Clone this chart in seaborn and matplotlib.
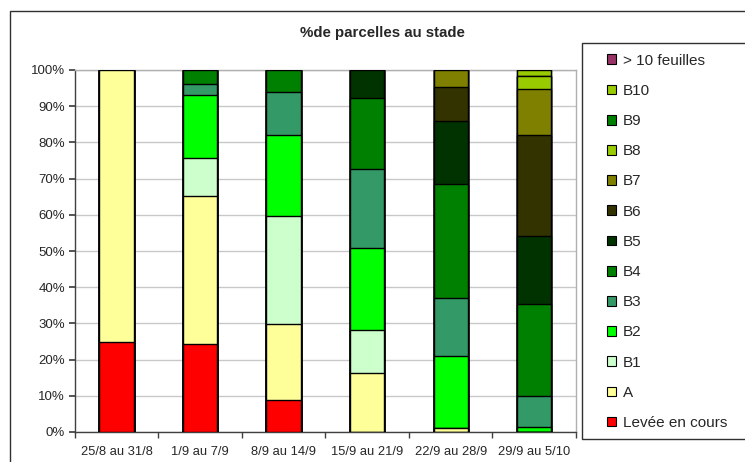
import matplotlib
matplotlib.use("Agg")
import matplotlib.pyplot as plt
from matplotlib.patches import Patch, Rectangle
import seaborn as sns
import pandas as pd
import numpy as np

periods = ["25/8 au 31/8", "1/9 au 7/9", "8/9 au 14/9", "15/9 au 21/9", "22/9 au 28/9", "29/9 au 5/10"]
stages = ["Levée en cours", "A", "B1", "B2", "B3", "B4", "B5", "B6", "B7", "B8", "B9", "B10", "> 10 feuilles"]
levee = [25.0, 24.3, 8.8, 0, 0, 0]
stade_a = [75.0, 41.0, 21.0, 16.4, 1.0, 0]
b1 = [0, 10.3, 29.8, 11.8, 0, 0]
b2 = [0, 17.5, 22.4, 22.7, 20.1, 1.3]
b3 = [0, 3.1, 11.8, 21.8, 16.0, 8.6]
b4 = [0, 3.8, 6.2, 19.6, 31.3, 25.4]
b5 = [0, 0, 0, 7.7, 17.5, 18.8]
b6 = [0, 0, 0, 0, 9.3, 27.9]
b7 = [0, 0, 0, 0, 4.8, 12.8]
b8 = [0, 0, 0, 0, 0, 3.6]
b9 = [0, 0, 0, 0, 0, 0]
b10 = [0, 0, 0, 0, 0, 1.6]
plus10 = [0, 0, 0, 0, 0, 0]
colors = ["#FF0000", "#FFFF99", "#CCFFCC", "#00FF00", "#339966", "#008000",
          "#003300", "#333300", "#808000", "#99CC00", "#008000", "#99CC00", "#993366"]

series = [levee, stade_a, b1, b2, b3, b4, b5, b6, b7, b8, b9, b10, plus10]
cum = np.cumsum(np.array(series, dtype=float), axis=0)

sns.set_theme(style="white")
plt.rcParams["font.family"] = ["Liberation Sans", "DejaVu Sans"]

fig = plt.figure(figsize=(7.45, 4.62), dpi=100)
ax = fig.add_axes([74.7 / 745, 1 - 432 / 462, (576 - 74.7) / 745, (432 - 70) / 462])

for i in range(len(stages) - 1, -1, -1):
    df = pd.DataFrame({"period": periods, "value": cum[i]})
    sns.barplot(data=df, x="period", y="value", color=colors[i], saturation=1,
                width=0.41, edgecolor="black", linewidth=1.0, ax=ax, zorder=3)

ax.set_ylim(0, 100)
ax.set_xlim(-0.5, len(periods) - 0.5)
ax.set_yticks(np.arange(0, 101, 10))
ax.set_yticklabels([f"{v}%" for v in range(0, 101, 10)], fontsize=9.5)
ax.set_xticks(range(len(periods)))
ax.set_xticklabels(periods, fontsize=9.3)
ax.tick_params(axis="x", length=0, pad=10)
ax.set_xticks(np.arange(-0.5, len(periods), 1), minor=True)
ax.tick_params(axis="x", which="minor", length=4, color="#404040", direction="out", bottom=True)
ax.tick_params(axis="y", length=4, color="#404040", direction="out", left=True, pad=3)
ax.set_xlabel("")
ax.set_ylabel("")
ax.yaxis.grid(True, color="#C8C8C8", linewidth=1.0, zorder=0)
ax.set_axisbelow(True)
for s in ["left", "bottom"]:
    ax.spines[s].set_color("#404040")
    ax.spines[s].set_linewidth(1.0)
for s in ["top", "right"]:
    ax.spines[s].set_color("#B0B0B0")
    ax.spines[s].set_linewidth(1.0)

fig.text(382 / 745, 1 - 33 / 462, "%de parcelles au stade", ha="center", va="center",
         fontsize=10.8, fontweight="bold")

# outer chart frame
fig.patches.append(Rectangle((10 / 745, -0.1), 1.0, 1 - 11 / 462 + 0.1, transform=fig.transFigure,
                             fill=False, edgecolor="#303030", linewidth=1.0, clip_on=False))
# legend frame
fig.patches.append(Rectangle((582 / 745, 1 - 439 / 462), 0.5, (439 - 43) / 462, transform=fig.transFigure,
                             facecolor="white", edgecolor="#303030", linewidth=1.0, clip_on=False))

handles = [Patch(facecolor=colors[i], edgecolor="black", linewidth=0.8, label=stages[i])
           for i in range(len(stages) - 1, -1, -1)]
fig.legend(handles=handles, loc="upper left", bbox_to_anchor=(596 / 745, 1 - 43 / 462),
           frameon=False, fontsize=11, handlelength=0.6, handleheight=0.6,
           handletextpad=0.45, labelspacing=1.06, borderpad=0.2)

fig.savefig("out.png", dpi=100)
